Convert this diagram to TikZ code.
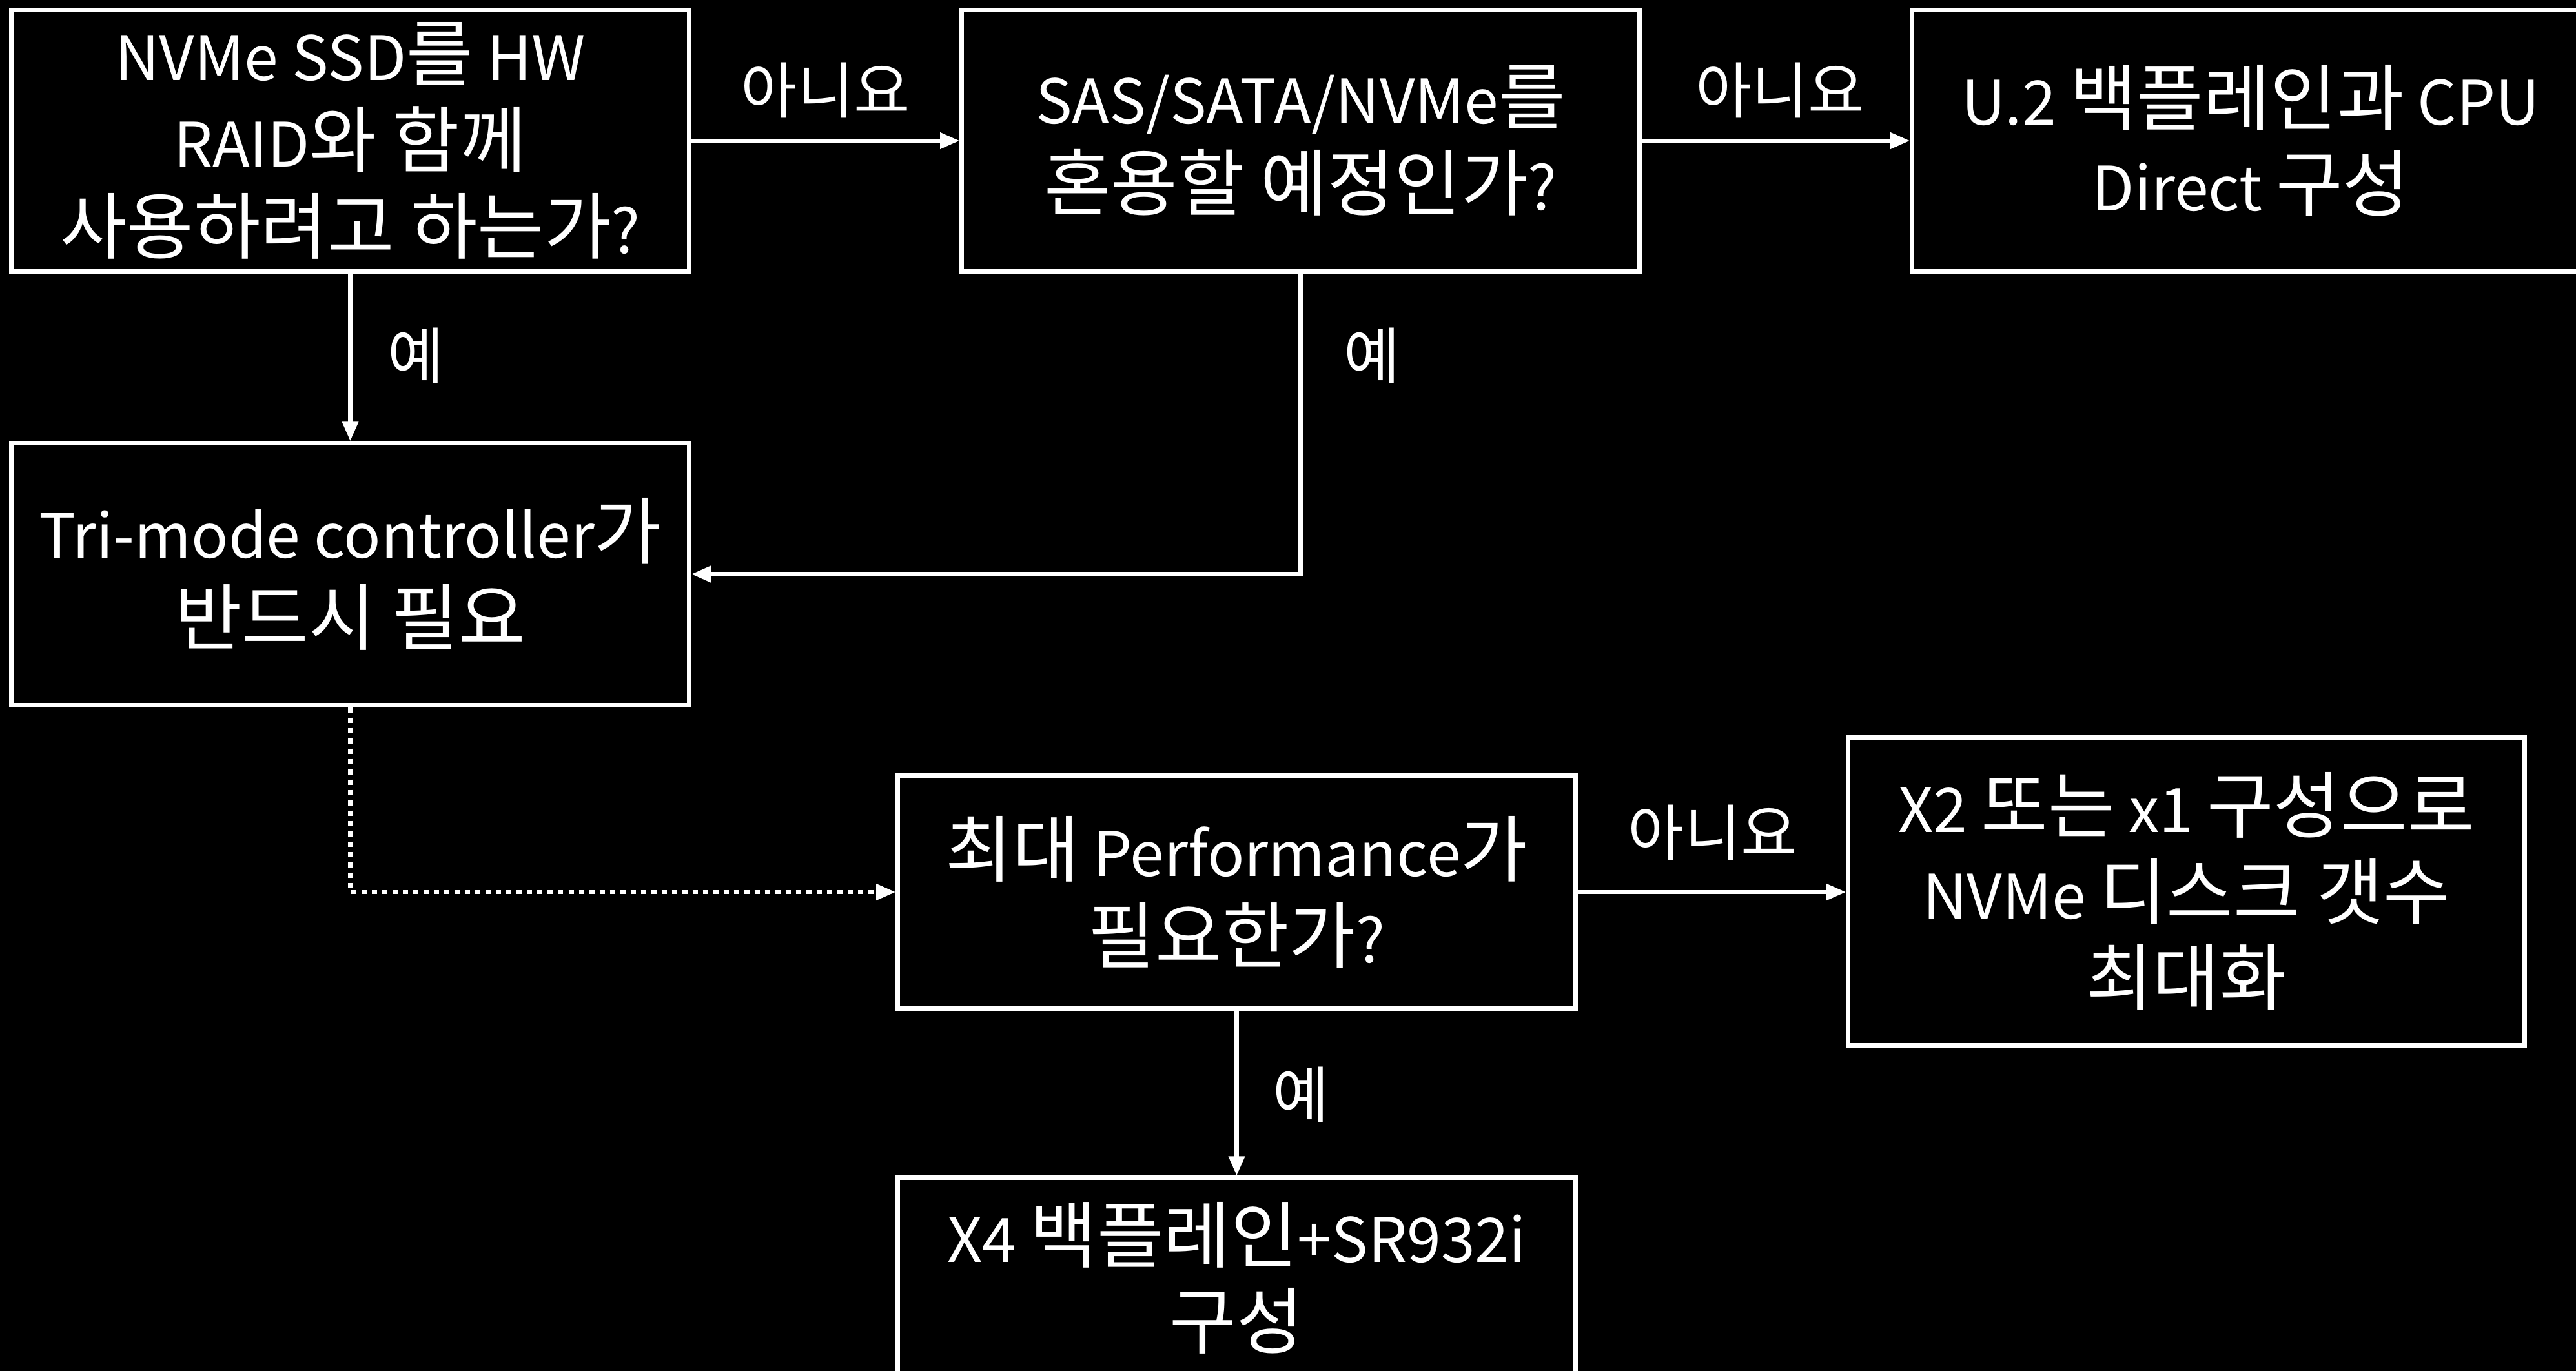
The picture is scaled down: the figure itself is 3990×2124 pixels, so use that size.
\documentclass[tikz,border=0pt]{standalone}
\usepackage{fontspec}
\setmainfont{Noto Sans CJK KR}
\usetikzlibrary{arrows.meta}
\newcommand\K[1]{{\fontsize{32}{38}\selectfont#1}}
\begin{document}
\begin{tikzpicture}[x=0.01cm,y=-0.01cm,
  box/.style={draw=white,line width=0.07cm,fill=black,text=white,align=center,inner sep=0pt,
    minimum width=10.49cm,font=\fontsize{27}{38}\selectfont},
  lbl/.style={text=white,inner sep=0pt,font=\fontsize{27}{30}\selectfont},
  conn/.style={draw=white,line width=0.065cm,-{Triangle[length=0.3cm,width=0.24cm]}},
  dotconn/.style={conn,dash pattern=on 0.08cm off 0.08cm}]
\fill[black] (0,0) rectangle (3990,2124);
\clip (0,0) rectangle (3990,2124);
\node[box,minimum height=4.04cm] (A) at (542.5,218) {NVMe SSD\K{를} HW\\RAID\K{와 함께}\\\K{사용하려고 하는가}?};
\node[box,minimum height=4.04cm] (B) at (2014.5,218) {SAS/SATA/NVMe\K{를}\\\K{혼용할 예정인가}?};
\node[box,minimum height=4.04cm] (C) at (3486.5,218) {U.2 \K{백플레인과} CPU\\Direct \K{구성}};
\node[box,minimum height=4.05cm] (D) at (542.5,889.5) {Tri-mode controller\K{가}\\\K{반드시 필요}};
\node[box,minimum height=3.60cm] (E) at (1915.5,1382) {\K{최대} Performance\K{가}\\\K{필요한가}?};
\node[box,minimum width=10.47cm,minimum height=4.77cm] (F) at (3386.5,1381) {X2 \K{또는} x1 \K{구성으로}\\NVMe \K{디스크 갯수}\\\K{최대화}};
\node[box,minimum height=3.10cm] (G) at (1915.5,1980) {X4 \K{백플레인}+SR932i\\\K{구성}};
\node[lbl] (n1) at (1279,140) {아니요};
\node[lbl] (n2) at (2757,140) {아니요};
\node[lbl] (y1) at (644,551) {예};
\node[lbl] (y2) at (2125,551) {예};
\node[lbl] (n3) at (2653,1290) {아니요};
\node[lbl] (y3) at (2015,1696) {예};
\draw[conn] (A.east) -- (B.west);
\draw[conn] (B.east) -- (C.west);
\draw[conn] (A.south) -- (D.north);
\draw[conn] (B.south) |- (D.east);
\draw[dotconn] (D.south) |- (E.west);
\draw[conn] (E.east) -- (E.east -| F.west);
\draw[conn] (E.south) -- (G.north);
\end{tikzpicture}
\end{document}
